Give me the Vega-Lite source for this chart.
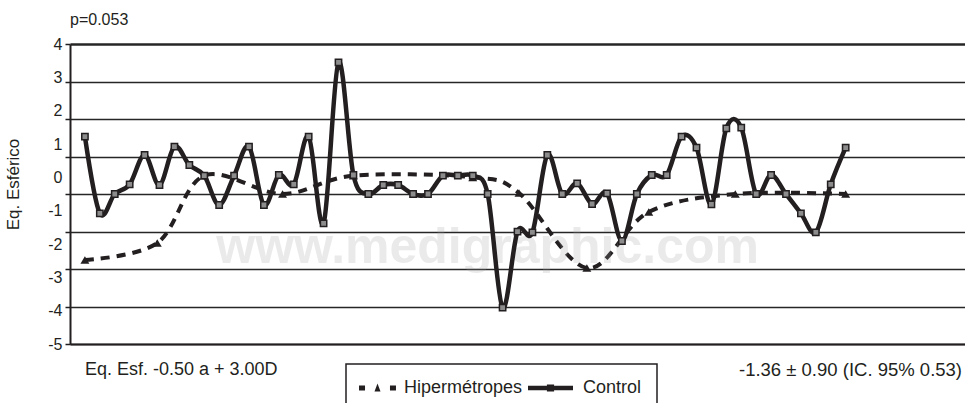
{
  "$schema": "https://vega.github.io/schema/vega-lite/v6.json",
  "width": 895,
  "height": 300,
  "autosize": "none",
  "padding": {"left": 70, "top": 44, "right": 0, "bottom": 59},
  "background": "white",
  "config": {
    "view": {"stroke": null},
    "font": "Liberation Sans",
    "axisY": {"titleFontSize": 17, "titleFontWeight": "normal", "titleFont": "Liberation Sans", "titleColor": "#231f20", "titlePadding": 25,
      "labelFontSize": 16, "labelFont": "Liberation Sans", "labelColor": "#231f20", "labelPadding": 3, "labelOverlap": false,
      "tickSize": 5, "tickWidth": 1.5, "tickColor": "#231f20", "grid": true, "gridColor": "#262626", "domainColor": "#231f20", "domainWidth": 2},
    "axisX": {"labels": false, "ticks": false, "grid": false, "domainColor": "#231f20", "domainWidth": 2}
  },
  "title": {"text": "p=0.053", "anchor": "start", "frame": "group", "fontSize": 16, "fontWeight": "normal", "color": "#231f20", "font": "Liberation Sans", "offset": 8},
  "data": {"values": [
    {"serie": "Control", "i": 1, "v": 1.22}, {"serie": "Control", "i": 2, "v": -1.08}, {"serie": "Control", "i": 3, "v": -0.5}, {"serie": "Control", "i": 4, "v": -0.21},
    {"serie": "Control", "i": 5, "v": 0.67}, {"serie": "Control", "i": 6, "v": -0.23}, {"serie": "Control", "i": 7, "v": 0.92}, {"serie": "Control", "i": 8, "v": 0.37},
    {"serie": "Control", "i": 9, "v": 0.05}, {"serie": "Control", "i": 10, "v": -0.83}, {"serie": "Control", "i": 11, "v": 0.05}, {"serie": "Control", "i": 12, "v": 0.92},
    {"serie": "Control", "i": 13, "v": -0.83}, {"serie": "Control", "i": 14, "v": 0.07}, {"serie": "Control", "i": 15, "v": -0.21}, {"serie": "Control", "i": 16, "v": 1.22},
    {"serie": "Control", "i": 17, "v": -1.38}, {"serie": "Control", "i": 18, "v": 3.45}, {"serie": "Control", "i": 19, "v": 0.07}, {"serie": "Control", "i": 20, "v": -0.5},
    {"serie": "Control", "i": 21, "v": -0.23}, {"serie": "Control", "i": 22, "v": -0.23}, {"serie": "Control", "i": 23, "v": -0.5}, {"serie": "Control", "i": 24, "v": -0.5},
    {"serie": "Control", "i": 25, "v": 0.05}, {"serie": "Control", "i": 26, "v": 0.05}, {"serie": "Control", "i": 27, "v": 0.05}, {"serie": "Control", "i": 28, "v": -0.5},
    {"serie": "Control", "i": 29, "v": -3.91}, {"serie": "Control", "i": 30, "v": -1.63}, {"serie": "Control", "i": 31, "v": -1.65}, {"serie": "Control", "i": 32, "v": 0.67},
    {"serie": "Control", "i": 33, "v": -0.5}, {"serie": "Control", "i": 34, "v": -0.18}, {"serie": "Control", "i": 35, "v": -0.8}, {"serie": "Control", "i": 36, "v": -0.48},
    {"serie": "Control", "i": 37, "v": -1.91}, {"serie": "Control", "i": 38, "v": -0.5}, {"serie": "Control", "i": 39, "v": 0.07}, {"serie": "Control", "i": 40, "v": 0.07},
    {"serie": "Control", "i": 41, "v": 1.22}, {"serie": "Control", "i": 42, "v": 0.89}, {"serie": "Control", "i": 43, "v": -0.81}, {"serie": "Control", "i": 44, "v": 1.47},
    {"serie": "Control", "i": 45, "v": 1.49}, {"serie": "Control", "i": 46, "v": -0.5}, {"serie": "Control", "i": 47, "v": 0.07}, {"serie": "Control", "i": 48, "v": -0.5},
    {"serie": "Control", "i": 49, "v": -1.08}, {"serie": "Control", "i": 50, "v": -1.65}, {"serie": "Control", "i": 51, "v": -0.21}, {"serie": "Control", "i": 52, "v": 0.89},
    {"serie": "Hipermétropes", "i": 1, "v": -2.48}, {"serie": "Hipermétropes", "i": 5.85, "v": -1.97}, {"serie": "Hipermétropes", "i": 9, "v": 0.05},
    {"serie": "Hipermétropes", "i": 14.25, "v": -0.5}, {"serie": "Hipermétropes", "i": 19, "v": 0.05}, {"serie": "Hipermétropes", "i": 27, "v": 0.0},
    {"serie": "Hipermétropes", "i": 30.1, "v": -0.47}, {"serie": "Hipermétropes", "i": 34.65, "v": -2.72}, {"serie": "Hipermétropes", "i": 38.8, "v": -1.04},
    {"serie": "Hipermétropes", "i": 44.6, "v": -0.5}, {"serie": "Hipermétropes", "i": 52, "v": -0.5}
  ]},
  "layer": [
    {
      "transform": [{"filter": "datum.serie === 'Hipermétropes'"}],
      "mark": {"type": "line", "interpolate": "cardinal", "strokeWidth": 4, "strokeDash": [9, 7], "color": "#231f20"},
      "encoding": {
        "x": {"field": "i", "type": "quantitative", "scale": {"domain": [0, 60], "nice": false, "zero": false}, "axis": {"title": null}},
        "y": {"field": "v", "type": "quantitative", "scale": {"domain": [-5, 4], "nice": false, "zero": false},
          "axis": {"title": "Eq. Esférico", "titleY": 140,
            "values": [4, 3, 2.875, 2, 1.75, 1, 0.625, 0, -0.5, -1, -1.625, -2, -2.75, -3, -3.875, -4, -5],
            "labelExpr": "datum.value % 1 === 0 ? '' + datum.value : ''",
            "tickOpacity": {"condition": {"test": "datum.value % 1 !== 0 || datum.value === 4 || datum.value === -5", "value": 1}, "value": 0},
            "gridWidth": {"condition": {"test": "datum.value === 4", "value": 2.4}, "value": 1.4},
            "gridOpacity": {"condition": {"test": "datum.value % 1 !== 0 || datum.value === 4 || datum.value === -5", "value": 1}, "value": 0}}}
      }
    },
    {
      "data": {"values": [{}]},
      "mark": {"type": "text", "font": "Liberation Sans", "fontWeight": "bold", "fontSize": 50, "fill": "#a0a0a0", "fillOpacity": 0.22, "align": "center", "baseline": "alphabetic"},
      "encoding": {
        "x": {"datum": 28, "type": "quantitative", "axis": {"title": null}},
        "y": {"datum": -2.57, "type": "quantitative",
          "axis": {"title": "Eq. Esférico", "titleY": 140,
            "values": [4, 3, 2.875, 2, 1.75, 1, 0.625, 0, -0.5, -1, -1.625, -2, -2.75, -3, -3.875, -4, -5],
            "labelExpr": "datum.value % 1 === 0 ? '' + datum.value : ''",
            "tickOpacity": {"condition": {"test": "datum.value % 1 !== 0 || datum.value === 4 || datum.value === -5", "value": 1}, "value": 0},
            "gridWidth": {"condition": {"test": "datum.value === 4", "value": 2.4}, "value": 1.4},
            "gridOpacity": {"condition": {"test": "datum.value % 1 !== 0 || datum.value === 4 || datum.value === -5", "value": 1}, "value": 0}}},
        "text": {"value": "www.medigraphic.com"}}
    },
    {
      "transform": [{"filter": "datum.serie === 'Hipermétropes'"}],
      "mark": {"type": "point", "shape": "triangle-up", "filled": true, "size": 80, "color": "#231f20", "opacity": 1},
      "encoding": {
        "x": {"field": "i", "type": "quantitative", "axis": {"title": null}},
        "y": {"field": "v", "type": "quantitative",
          "axis": {"title": "Eq. Esférico", "titleY": 140,
            "values": [4, 3, 2.875, 2, 1.75, 1, 0.625, 0, -0.5, -1, -1.625, -2, -2.75, -3, -3.875, -4, -5],
            "labelExpr": "datum.value % 1 === 0 ? '' + datum.value : ''",
            "tickOpacity": {"condition": {"test": "datum.value % 1 !== 0 || datum.value === 4 || datum.value === -5", "value": 1}, "value": 0},
            "gridWidth": {"condition": {"test": "datum.value === 4", "value": 2.4}, "value": 1.4},
            "gridOpacity": {"condition": {"test": "datum.value % 1 !== 0 || datum.value === 4 || datum.value === -5", "value": 1}, "value": 0}}}
      }
    },
    {
      "transform": [{"filter": "datum.serie === 'Control'"}],
      "mark": {"type": "line", "interpolate": "cardinal", "strokeWidth": 4.5},
      "encoding": {
        "x": {"field": "i", "type": "quantitative", "axis": {"title": null}},
        "y": {"field": "v", "type": "quantitative",
          "axis": {"title": "Eq. Esférico", "titleY": 140,
            "values": [4, 3, 2.875, 2, 1.75, 1, 0.625, 0, -0.5, -1, -1.625, -2, -2.75, -3, -3.875, -4, -5],
            "labelExpr": "datum.value % 1 === 0 ? '' + datum.value : ''",
            "tickOpacity": {"condition": {"test": "datum.value % 1 !== 0 || datum.value === 4 || datum.value === -5", "value": 1}, "value": 0},
            "gridWidth": {"condition": {"test": "datum.value === 4", "value": 2.4}, "value": 1.4},
            "gridOpacity": {"condition": {"test": "datum.value % 1 !== 0 || datum.value === 4 || datum.value === -5", "value": 1}, "value": 0}}},
        "color": {"field": "serie", "type": "nominal",
          "scale": {"domain": ["Hipermétropes", "Control"], "range": ["#231f20", "#231f20"]},
          "legend": {
            "title": null, "orient": "none", "legendX": 276, "legendY": 320, "direction": "horizontal", "padding": 15,
            "strokeColor": "#231f20", "symbolSize": 144, "labelFontSize": 18, "labelFont": "Liberation Sans", "labelColor": "#231f20",
            "labelOffset": 25, "columnPadding": 5,
            "encode": {
              "symbols": {"update": {
                "shape": {"signal": "datum.value === 'Control' ? 'M-3.5,-0.37H4.0V0.37H-3.5Z M-0.35,-0.6H0.85V0.6H-0.35Z' : 'M-1.83,-0.42H-0.83V0.42H-1.83Z M3.33,-0.42H4.33V0.42H3.33Z M0.75,0.58L1.25,-0.75L1.75,0.58Z'"},
                "fill": {"value": "#231f20"}, "stroke": {"value": "transparent"}, "strokeWidth": {"value": 0}, "opacity": {"value": 1}
              }},
              "legend": {"update": {"strokeWidth": {"value": 1.5}}}
            }
          }}
      }
    },
    {
      "transform": [{"filter": "datum.serie === 'Control'"}],
      "mark": {"type": "point", "shape": "square", "filled": true, "size": 40, "fill": "#8c8c8c", "stroke": "#231f20", "strokeWidth": 1.5, "opacity": 1},
      "encoding": {
        "x": {"field": "i", "type": "quantitative", "axis": {"title": null}},
        "y": {"field": "v", "type": "quantitative",
          "axis": {"title": "Eq. Esférico", "titleY": 140,
            "values": [4, 3, 2.875, 2, 1.75, 1, 0.625, 0, -0.5, -1, -1.625, -2, -2.75, -3, -3.875, -4, -5],
            "labelExpr": "datum.value % 1 === 0 ? '' + datum.value : ''",
            "tickOpacity": {"condition": {"test": "datum.value % 1 !== 0 || datum.value === 4 || datum.value === -5", "value": 1}, "value": 0},
            "gridWidth": {"condition": {"test": "datum.value === 4", "value": 2.4}, "value": 1.4},
            "gridOpacity": {"condition": {"test": "datum.value % 1 !== 0 || datum.value === 4 || datum.value === -5", "value": 1}, "value": 0}}}
      }
    },
    {
      "data": {"values": [{}]},
      "mark": {"type": "text", "fontSize": 18, "font": "Liberation Sans", "color": "#231f20", "align": "left", "baseline": "middle"},
      "encoding": {
        "x": {"datum": 1, "type": "quantitative", "axis": {"title": null}},
        "y": {"datum": -5.78, "type": "quantitative",
          "axis": {"title": "Eq. Esférico", "titleY": 140,
            "values": [4, 3, 2.875, 2, 1.75, 1, 0.625, 0, -0.5, -1, -1.625, -2, -2.75, -3, -3.875, -4, -5],
            "labelExpr": "datum.value % 1 === 0 ? '' + datum.value : ''",
            "tickOpacity": {"condition": {"test": "datum.value % 1 !== 0 || datum.value === 4 || datum.value === -5", "value": 1}, "value": 0},
            "gridWidth": {"condition": {"test": "datum.value === 4", "value": 2.4}, "value": 1.4},
            "gridOpacity": {"condition": {"test": "datum.value % 1 !== 0 || datum.value === 4 || datum.value === -5", "value": 1}, "value": 0}}},
        "text": {"value": "Eq. Esf. -0.50 a + 3.00D"}}
    },
    {
      "data": {"values": [{}]},
      "mark": {"type": "text", "fontSize": 18.5, "font": "Liberation Sans", "color": "#231f20", "align": "right", "baseline": "middle"},
      "encoding": {
        "x": {"datum": 59.8, "type": "quantitative", "axis": {"title": null}},
        "y": {"datum": -5.78, "type": "quantitative",
          "axis": {"title": "Eq. Esférico", "titleY": 140,
            "values": [4, 3, 2.875, 2, 1.75, 1, 0.625, 0, -0.5, -1, -1.625, -2, -2.75, -3, -3.875, -4, -5],
            "labelExpr": "datum.value % 1 === 0 ? '' + datum.value : ''",
            "tickOpacity": {"condition": {"test": "datum.value % 1 !== 0 || datum.value === 4 || datum.value === -5", "value": 1}, "value": 0},
            "gridWidth": {"condition": {"test": "datum.value === 4", "value": 2.4}, "value": 1.4},
            "gridOpacity": {"condition": {"test": "datum.value % 1 !== 0 || datum.value === 4 || datum.value === -5", "value": 1}, "value": 0}}},
        "text": {"value": "-1.36 ± 0.90 (IC. 95% 0.53)"}}
    }
  ]
}
